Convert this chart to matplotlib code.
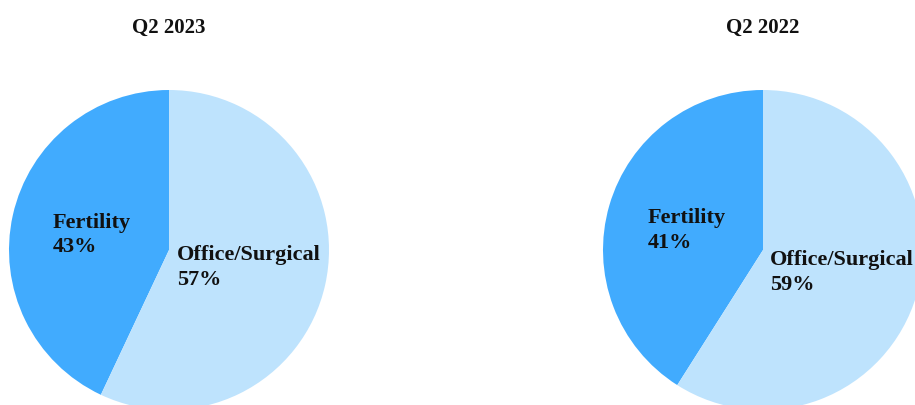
import matplotlib
matplotlib.use("Agg")
import matplotlib.pyplot as plt

titles = ["Q2 2023", "Q2 2022"]
categories = ["Fertility", "Office/Surgical"]
values_2023 = [43, 57]
values_2022 = [41, 59]
series = [values_2023, values_2022]
colors = ["#41ABFE", "#BEE3FD"]

W, H = 915, 405
fig = plt.figure(figsize=(W / 100, H / 100), dpi=100)
fig.patch.set_facecolor("white")

R = 160
centers = [(169, 250), (763, 250)]
# label pixel positions: (left x, first-line baseline, second-line baseline)
label_pos = [
    [(53, 228, 252), (177, 260, 285)],
    [(648, 223, 248), (770, 265, 290)],
]
font = "Liberation Serif"

for i, (cx, cy) in enumerate(centers):
    ax = fig.add_axes([(cx - R) / W, (H - (cy + R)) / H, 2 * R / W, 2 * R / H])
    ax.pie(series[i], colors=colors, startangle=90, counterclock=True,
           wedgeprops=dict(linewidth=0))
    ax.set_xlim(-1, 1)
    ax.set_ylim(-1, 1)
    ax.set_aspect("equal")
    ax.axis("off")
    for j, cat in enumerate(categories):
        px, b1, b2 = label_pos[i][j]
        ax.text((px - cx) / R, (cy - b1) / R, cat, ha="left", va="baseline",
                fontsize=16, fontweight="bold", family=font, color="#111111")
        ax.text((px - cx) / R, (cy - b2) / R, f"{series[i][j]}%", ha="left", va="baseline",
                fontsize=16, fontweight="bold", family=font, color="#111111")
    fig.text(cx / W, 1 - 33 / H, titles[i], ha="center", va="baseline",
             fontsize=15, fontweight="bold", family=font, color="#111111")

fig.savefig("out.png", dpi=100)
